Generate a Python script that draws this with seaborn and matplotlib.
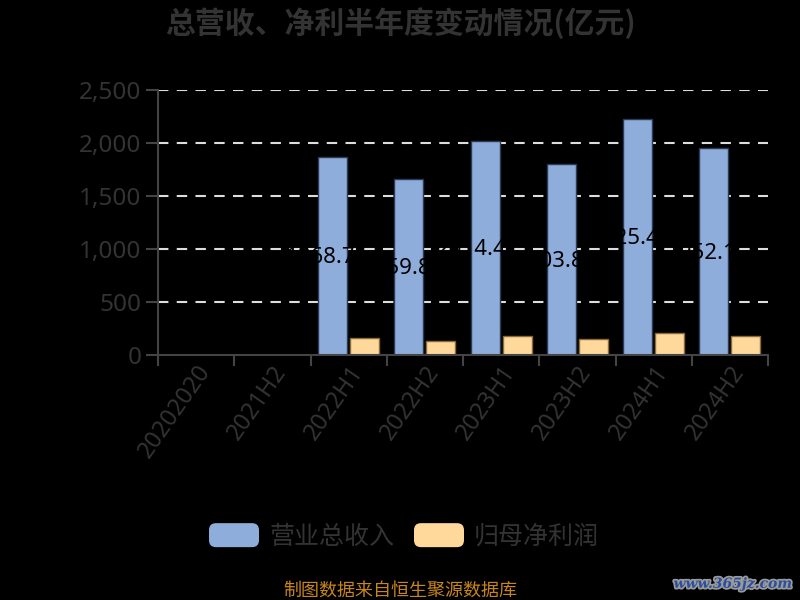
import matplotlib
matplotlib.use("Agg")
import matplotlib.pyplot as plt
import seaborn as sns
import numpy as np
import pandas as pd
from matplotlib.patches import FancyBboxPatch, Patch
from matplotlib.legend_handler import HandlerPatch
from matplotlib.ticker import FuncFormatter, MultipleLocator
import matplotlib.patheffects as pe

categories = ["20202020", "2021H2", "2022H1", "2022H2", "2023H1", "2023H2", "2024H1", "2024H2"]
revenue = [np.nan, np.nan, 1868.7, 1659.8, 2014.4, 1803.8, 2225.4, 1952.1]
net_profit = [np.nan, np.nan, 164, 136, 183, 155, 211, 180]
series_names = ["营业总收入", "归母净利润"]
colors = ["#8EADDB", "#FFD99B"]
edge_colors = ["#2B3A55", "#8A6A3A"]

sns.set_theme(style="dark")
plt.rcParams['font.family'] = ['Noto Sans CJK SC', 'DejaVu Sans']

df = pd.DataFrame({
    "cat": categories * 2,
    "value": revenue + net_profit,
    "series": [series_names[0]] * len(categories) + [series_names[1]] * len(categories),
})

fig = plt.figure(figsize=(8, 6), dpi=100, facecolor="black")
ax = fig.add_axes([0.1975, 0.4083, 0.7625, 0.4417])
ax.set_facecolor("black")

sns.barplot(data=df, x="cat", y="value", hue="series", palette=colors,
            width=0.84, gap=0.1, ax=ax, legend=False, saturation=1)

for ci, cont in enumerate(ax.containers):
    for p in cont.patches:
        if p is None:
            continue
        p.set_edgecolor(edge_colors[ci])
        p.set_linewidth(1.0)

# revenue labels at half bar height (black text, only visible over the bars)
for p in ax.containers[0].patches:
    if p is None:
        continue
    h = p.get_height()
    if np.isnan(h) or h <= 0:
        continue
    ax.text(p.get_x() + p.get_width() / 2 - 0.17, h / 2 - 15, f"{h:.1f}", ha="center", va="center",
            color="black", fontsize=16, family=['Noto Sans', 'DejaVu Sans'], zorder=5)

ax.set_ylim(0, 2500)
ax.set_xlim(-0.5, len(categories) - 0.5)
ax.yaxis.set_major_locator(MultipleLocator(500))
ax.yaxis.set_major_formatter(FuncFormatter(lambda v, p: f"{int(v):,}"))

for y in [500, 1000, 1500, 2000, 2500]:
    ax.axhline(y, color="#DDDDDD", linestyle=(0, (5, 4)), linewidth=1.5, zorder=0)

for s in ["top", "right"]:
    ax.spines[s].set_visible(False)
for s in ["left", "bottom"]:
    ax.spines[s].set_visible(True)
    ax.spines[s].set_color("#444444")
    ax.spines[s].set_linewidth(1.5)

ax.set_xlabel("")
ax.set_ylabel("")
ax.tick_params(axis="y", colors="#444444", labelsize=17.5, length=9, width=1.5, left=True,
               labelcolor="#333333", pad=3)
ax.tick_params(axis="x", colors="#444444", labelsize=17, length=0, labelcolor="#333333", pad=4)
for lab in ax.get_yticklabels():
    lab.set_fontfamily(['Noto Sans', 'DejaVu Sans'])
ax.set_xticks(range(len(categories)))
ax.set_xticklabels(categories, rotation=55, ha="right", rotation_mode="anchor",
                   family=['Noto Sans', 'DejaVu Sans'])
ax.set_xticks(np.arange(-0.5, len(categories), 1), minor=True)
ax.tick_params(axis="x", which="minor", bottom=True, length=8, width=1.5, color="#444444")
ax.grid(False)

fig.text(0.5, 0.962, "总营收、净利半年度变动情况(亿元)", ha="center", va="center",
         fontsize=21.5, fontweight="bold", color="#333333")


class RoundHandler(HandlerPatch):
    def create_artists(self, legend, orig_handle, xdescent, ydescent, width, height, fontsize, trans):
        p = FancyBboxPatch((-xdescent, -ydescent), width, height,
                           boxstyle="round,pad=0,rounding_size=5",
                           facecolor=orig_handle.get_facecolor(), edgecolor="none",
                           transform=trans)
        return [p]


handles = [Patch(facecolor=c, label=n) for c, n in zip(colors, series_names)]
leg = fig.legend(handles=handles, loc="center", bbox_to_anchor=(0.505, 0.106), ncol=2,
                 frameon=False, fontsize=18, handlelength=2.0, handleheight=1.1,
                 handletextpad=0.4, columnspacing=0.8,
                 handler_map={Patch: RoundHandler()})
for t in leg.get_texts():
    t.set_color("#333333")

fig.text(0.5, 0.016, "制图数据来自恒生聚源数据库", ha="center", va="center",
         fontsize=13, color="#C8861A")

wm = fig.text(0.916, 0.027, "www.365jz.com", ha="center", va="center", fontsize=10,
              color="#2B4E9E", fontweight="bold", style="italic", family="DejaVu Serif")
wm.set_path_effects([pe.withStroke(linewidth=2.5, foreground="#9A9A9A")])

fig.savefig("out.png", dpi=100, facecolor="black")
